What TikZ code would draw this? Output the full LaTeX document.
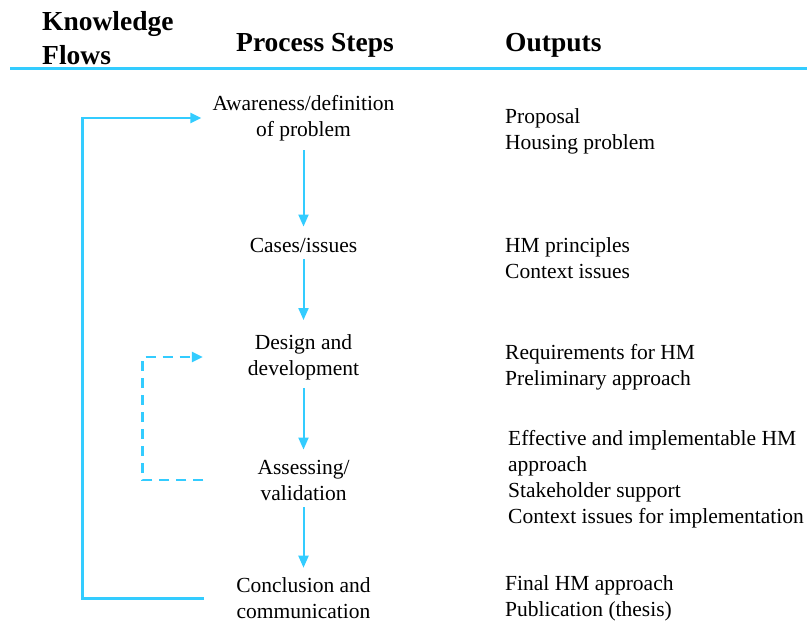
\documentclass[tikz,border=0pt]{standalone}
\usepackage{fontspec}
\setmainfont{Liberation Serif}
\usetikzlibrary{arrows.meta}
\definecolor{flowblue}{RGB}{51,204,255}
\begin{document}
\begin{tikzpicture}[x=1pt,y=-1pt,
  body/.style={font=\fontsize{21.5}{26}\selectfont, inner sep=0pt, align=center},
  outtxt/.style={font=\fontsize{21.5}{26}\selectfont, inner sep=0pt, align=left, anchor=west},
  head/.style={font=\fontsize{27.5}{34}\selectfont\bfseries, inner sep=0pt, align=left},
  arr/.style={draw=flowblue, line width=2pt, -{Triangle[width=10pt,length=12pt]}},
  flow/.style={draw=flowblue, line width=2.5pt, -{Triangle[width=10pt,length=11pt]}},
  dflow/.style={flow, dash pattern=on 10pt off 7pt},
]
\useasboundingbox (0,0) rectangle (807,623);
% headers
\node[head, anchor=north west] (hk) at (42,11) {Knowledge\\Flows};
\node[head, anchor=base west] (hp) at (236,52) {Process Steps};
\node[head, anchor=base west] (ho) at (505,52) {Outputs};
\coordinate (rl) at (10,69);
\coordinate (rr) at (807,69);
\draw[flowblue, line width=3pt] (rl) -- (rr);
% process steps
\node[body] (s1) at (303.5,118) {Awareness/definition\\of problem};
\node[body] (s2) at (303.5,245) {Cases/issues};
\node[body] (s3) at (303.5,357) {Design and\\development};
\node[body] (s4) at (303.5,480) {Assessing/\\validation};
\node[body] (s5) at (303.5,598.5) {Conclusion and\\communication};
\draw[arr, shorten <=9pt, shorten >=11pt] (s1.south) -- (s2.north);
\draw[arr, shorten <=7pt, shorten >=14pt] (s2.south) -- (s3.north);
\draw[arr, shorten <=8pt, shorten >=10pt] (s3.south) -- (s4.north);
\draw[arr, shorten <=7pt, shorten >=10pt] (s4.south) -- (s5.north);
% knowledge flows
\coordinate (kc) at (82.5,118);
\draw[flow, shorten <=32pt, shorten >=11pt] (s5.west) -| (kc) |- (s1.west);
\coordinate (dc) at (142.5,357);
\draw[dflow, shorten <=54pt, shorten >=45pt] (s4.west) -| (dc) |- (s3.west);
% outputs
\node[outtxt] (o1) at (505,131) {Proposal\\Housing problem};
\node[outtxt] (o2) at (505,258) {HM principles\\Context issues};
\node[outtxt] (o3) at (505,367) {Requirements for HM\\Preliminary approach};
\node[outtxt] (o4) at (508,479) {Effective and implementable HM\\approach\\Stakeholder support\\Context issues for implementation};
\node[outtxt] (o5) at (505,598.5) {Final HM approach\\Publication (thesis)};
\end{tikzpicture}
\end{document}
